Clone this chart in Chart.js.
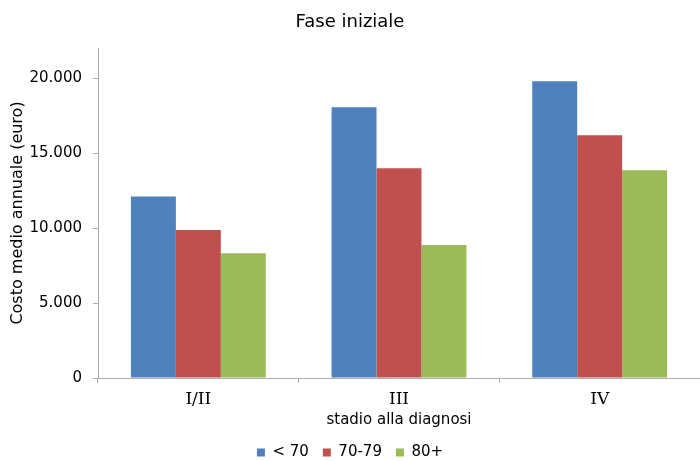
<!DOCTYPE html>
<html>
<head>
<meta charset="utf-8">
<script src="https://cdn.jsdelivr.net/npm/chart.js@4.4.1/dist/chart.umd.min.js"></script>
<style>
  html, body { margin: 0; padding: 0; background: #fff; }
</style>
</head>
<body>
<canvas id="costChart" width="700" height="461"></canvas>
<script>
// Costo medio annuale per stadio e fascia d'età
const stages = ["I/II", "III", "IV"];
const under70 = [12100, 18050, 19780];
const age70to79 = [9860, 13990, 16190];
const over80 = [8310, 8870, 13850];
const yTicks = [0, 5000, 10000, 15000, 20000];

const axisGrey = "#adadad";
const sans = "'DejaVu Sans', Verdana, sans-serif";

// 20000 -> "20.000"
const formatEuro = v => String(v).replace(/\B(?=(\d{3})+(?!\d))/g, ".");

new Chart(document.getElementById("costChart"), {
  type: "bar",
  data: {
    labels: stages,
    datasets: [
      { label: "< 70", data: under70, backgroundColor: "#4F81BD" },
      { label: "70-79", data: age70to79, backgroundColor: "#C0504D" },
      { label: "80+", data: over80, backgroundColor: "#9BBB59" }
    ]
  },
  options: {
    responsive: false,
    animation: false,
    // legend sits a little lower than the default box allows
    layout: { padding: { top: 0, left: 0, right: 0, bottom: -9 } },
    datasets: {
      bar: { categoryPercentage: 0.672, barPercentage: 1, borderWidth: 0 }
    },
    scales: {
      x: {
        grid: {
          drawOnChartArea: false,
          drawTicks: true,
          tickLength: 5,
          tickColor: axisGrey,
          offset: true
        },
        border: { color: axisGrey },
        ticks: {
          color: "#000",
          padding: 6,
          font: { family: "'DejaVu Serif', serif", size: 17 }
        },
        title: {
          display: true,
          text: "stadio alla diagnosi",
          color: "#000",
          font: { family: sans, size: 15 },
          padding: { top: 0, bottom: 2 }
        },
        afterFit: scale => { scale.height = 53; }
      },
      y: {
        min: 0,
        max: 22000,
        afterBuildTicks: scale => {
          scale.ticks = yTicks.map(v => ({ value: v }));
        },
        grid: {
          drawOnChartArea: false,
          drawTicks: true,
          tickLength: 5,
          tickColor: axisGrey
        },
        border: { color: axisGrey },
        ticks: {
          color: "#000",
          padding: 11,
          font: { family: sans, size: 15 },
          callback: v => formatEuro(v)
        },
        title: {
          display: true,
          text: "Costo medio annuale (euro)",
          color: "#000",
          font: { family: sans, size: 16 },
          padding: { top: 8, bottom: 0 }
        },
        afterFit: scale => { scale.width = 98; }
      }
    },
    plugins: {
      title: {
        display: true,
        text: "Fase iniziale",
        color: "#000",
        font: { family: sans, size: 18, weight: "normal" },
        padding: { top: 12, bottom: 14.4 }
      },
      legend: {
        position: "bottom",
        labels: {
          color: "#000",
          boxWidth: 8,
          boxHeight: 8,
          padding: 14,
          font: { family: sans, size: 15 }
        }
      },
      tooltip: { enabled: false }
    }
  }
});
</script>
</body>
</html>
